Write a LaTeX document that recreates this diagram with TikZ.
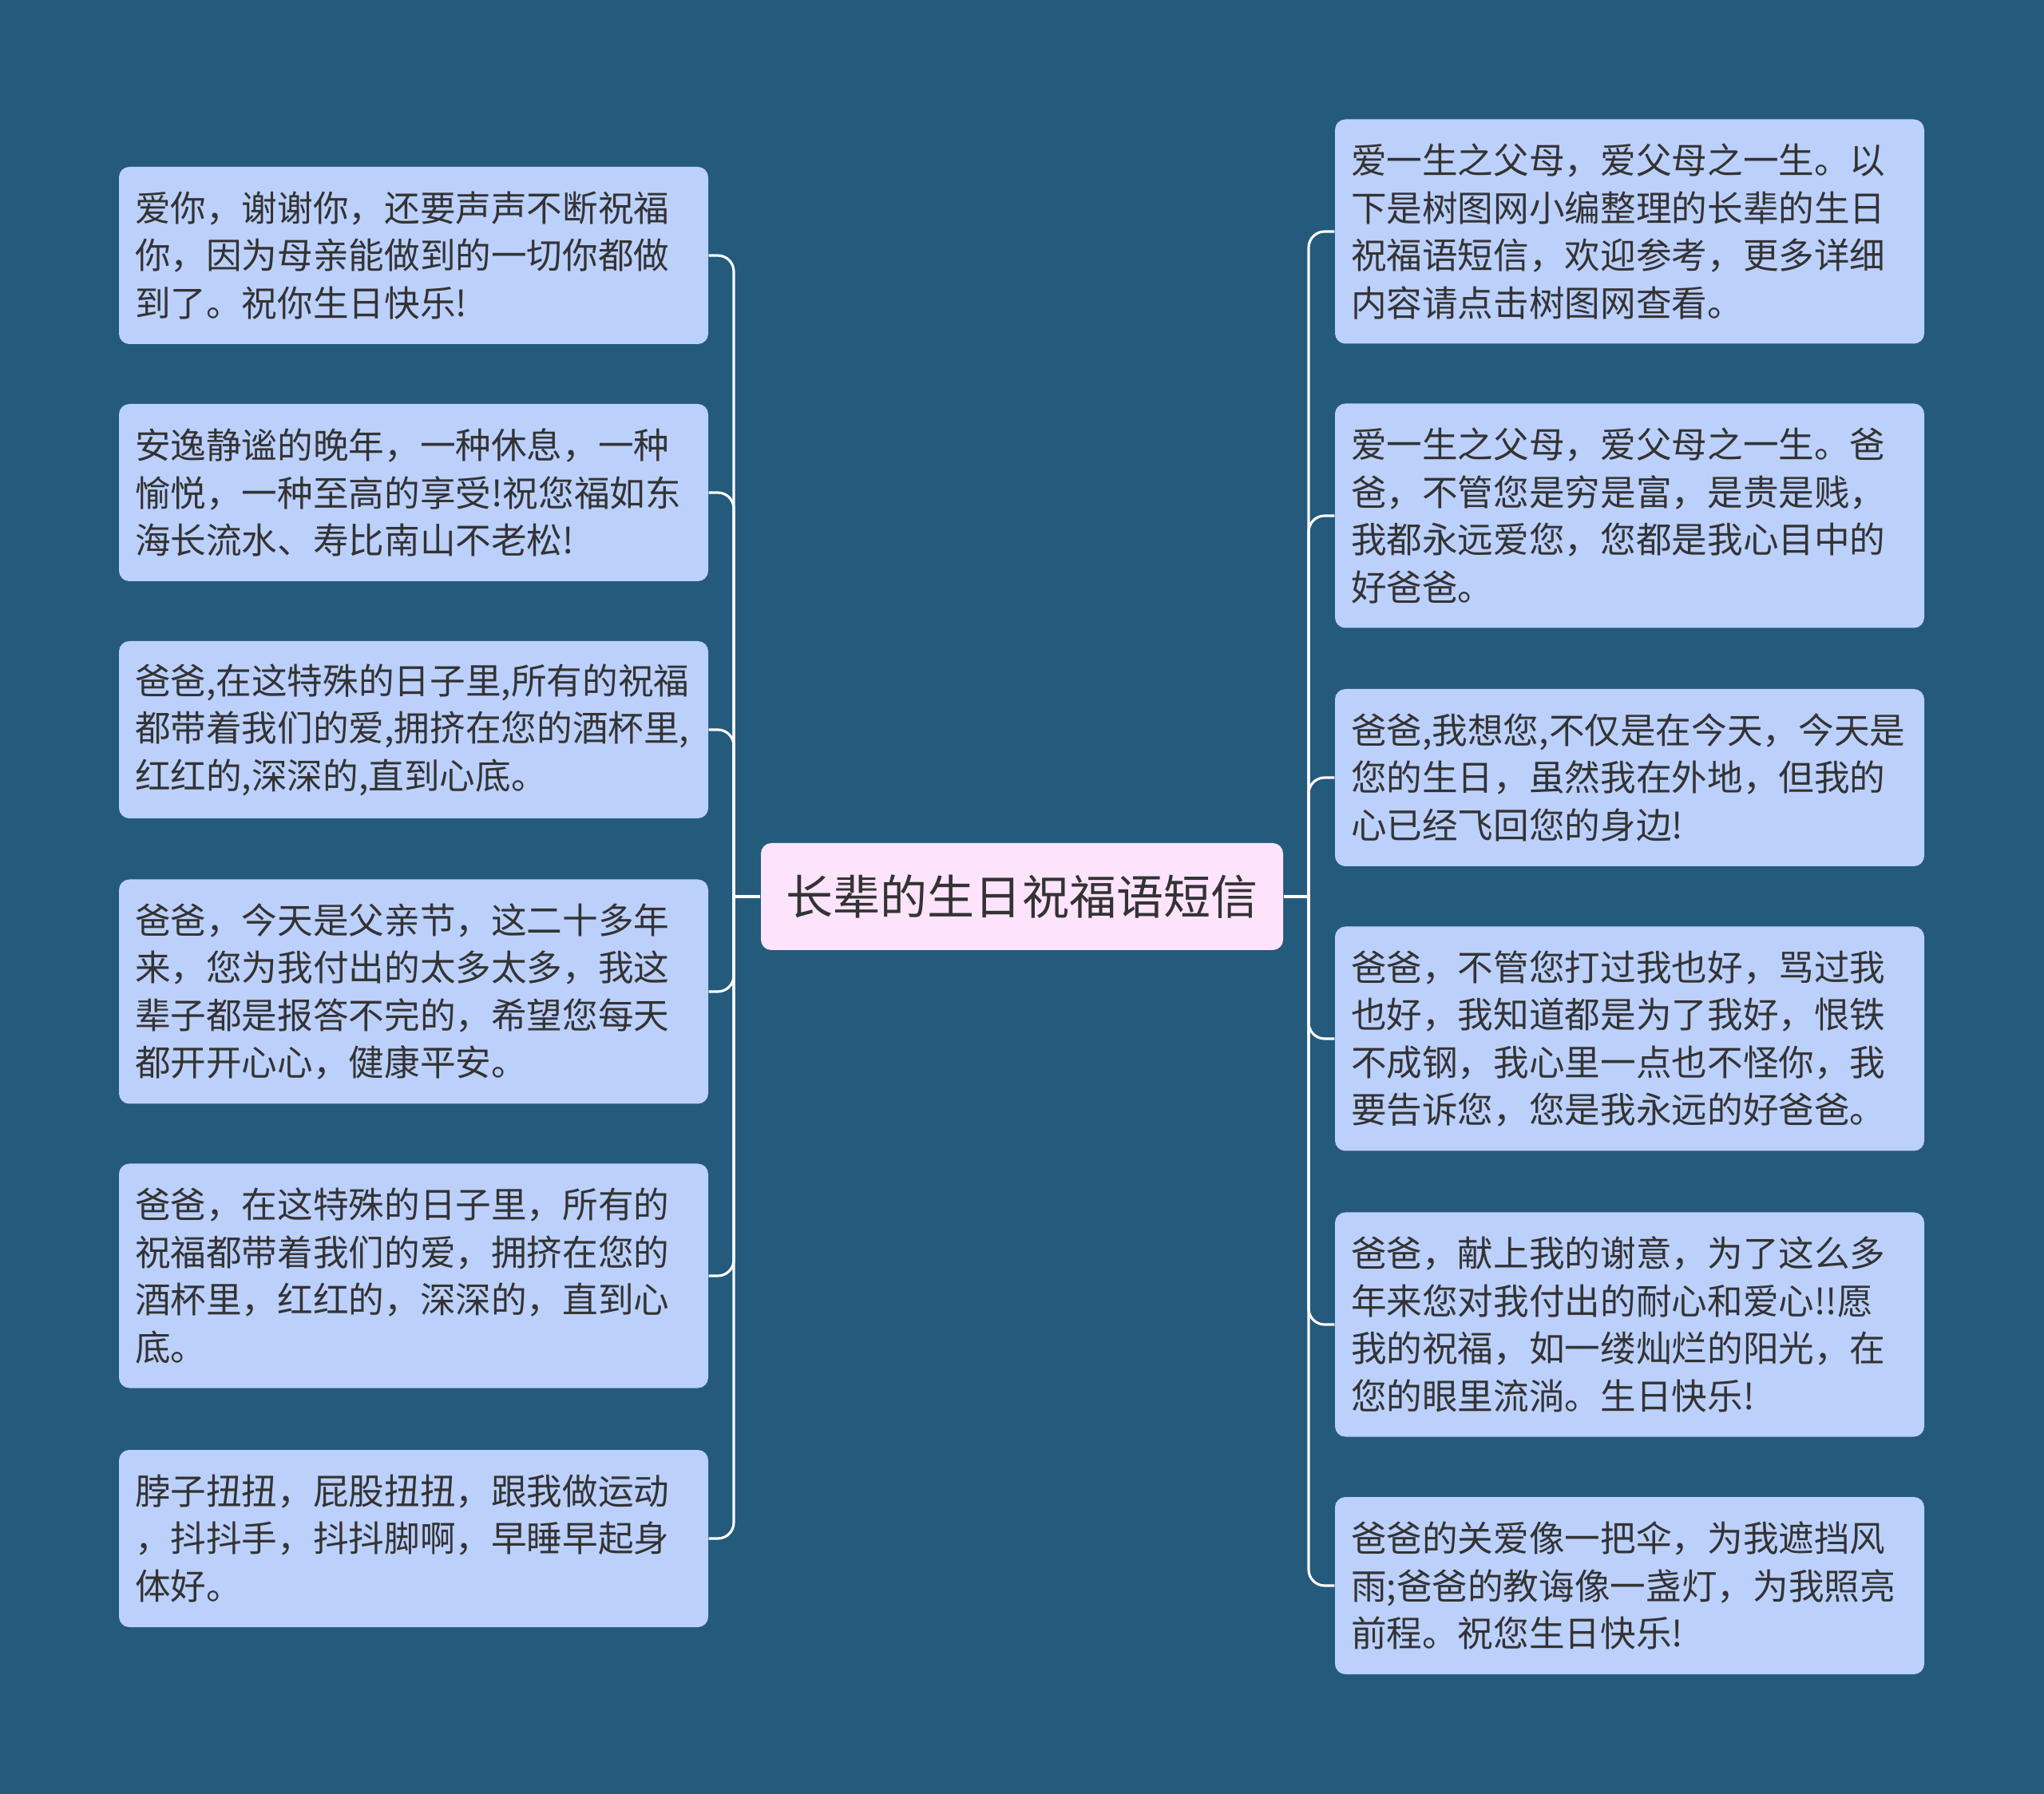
\documentclass[tikz,border=0pt]{standalone}
\usepackage{fontspec}
\setmainfont{Noto Sans CJK SC}
\usepackage{tikz}
\usetikzlibrary{positioning}

\definecolor{bgblue}{HTML}{245A7C}
\definecolor{leafblue}{HTML}{BCD0FC}
\definecolor{rootpink}{HTML}{FDE4FC}
\definecolor{inkgray}{HTML}{333333}

\begin{document}
\begin{tikzpicture}[
		leaf/.style={rectangle, rounded corners=0.13cm, fill=leafblue, text=inkgray, minimum width=7.38cm, minimum height=2.22cm, text width=6.98cm, align=left, inner xsep=0.20cm, font=\fontsize{12.7pt}{16.9pt}\selectfont},
		leaftall/.style={leaf, minimum height=2.81cm},
		rootbox/.style={rectangle, rounded corners=0.13cm, fill=rootpink, text=inkgray, minimum width=6.54cm, minimum height=1.34cm, font=\fontsize{16.8pt}{20pt}\selectfont},
		link/.style={draw=white, line width=0.9pt, rounded corners=0.2cm}]
		
		% Fundo
		\fill[bgblue] (0,0) rectangle (25.6,-22.47);
		\useasboundingbox (0,0) rectangle (25.6,-22.47);
		
		% Raiz
		\node[rootbox] (root) at (12.80,-11.23) {长辈的生日祝福语短信};
		\coordinate (jl) at (9.19,-11.23);
		\coordinate (jr) at (16.39,-11.23);
		
		% Esquerda
		\node[leaf] (l1) at (5.18,-3.20) {爱你，谢谢你，还要声声不断祝福\\你，因为母亲能做到的一切你都做\\到了。祝你生日快乐!};
		\node[leaf] (l2) at (5.18,-6.17) {安逸静谧的晚年，一种休息，一种\\愉悦，一种至高的享受!祝您福如东\\海长流水、寿比南山不老松!};
		\node[leaf] (l3) at (5.18,-9.14) {爸爸,在这特殊的日子里,所有的祝福\\都带着我们的爱,拥挤在您的酒杯里,\\红红的,深深的,直到心底。};
		\node[leaftall] (l4) at (5.18,-12.42) {爸爸，今天是父亲节，这二十多年\\来，您为我付出的太多太多，我这\\辈子都是报答不完的，希望您每天\\都开开心心，健康平安。};
		\node[leaftall] (l5) at (5.18,-15.98) {爸爸，在这特殊的日子里，所有的\\祝福都带着我们的爱，拥挤在您的\\酒杯里，红红的，深深的，直到心\\底。};
		\node[leaf] (l6) at (5.18,-19.27) {脖子扭扭，屁股扭扭，跟我做运动\\，抖抖手，抖抖脚啊，早睡早起身\\体好。};
		
		% Direita
		\node[leaftall] (r1) at (20.41,-2.90) {爱一生之父母，爱父母之一生。以\\下是树图网小编整理的长辈的生日\\祝福语短信，欢迎参考，更多详细\\内容请点击树图网查看。};
		\node[leaftall] (r2) at (20.41,-6.46) {爱一生之父母，爱父母之一生。爸\\爸，不管您是穷是富，是贵是贱，\\我都永远爱您，您都是我心目中的\\好爸爸。};
		\node[leaf] (r3) at (20.41,-9.74) {爸爸,我想您,不仅是在今天，今天是\\您的生日，虽然我在外地，但我的\\心已经飞回您的身边!};
		\node[leaftall] (r4) at (20.41,-13.01) {爸爸，不管您打过我也好，骂过我\\也好，我知道都是为了我好，恨铁\\不成钢，我心里一点也不怪你，我\\要告诉您，您是我永远的好爸爸。};
		\node[leaftall] (r5) at (20.41,-16.59) {爸爸，献上我的谢意，为了这么多\\年来您对我付出的耐心和爱心!!愿\\我的祝福，如一缕灿烂的阳光，在\\您的眼里流淌。生日快乐!};
		\node[leaf] (r6) at (20.41,-19.86) {爸爸的关爱像一把伞，为我遮挡风\\雨;爸爸的教诲像一盏灯，为我照亮\\前程。祝您生日快乐!};
		
		% Ligacoes
		\draw[link] (root.west) -- (jl);
		\draw[link] (root.east) -- (jr);
		\foreach \i in {1,...,6} {
			\draw[link] (jl) |- (l\i.east);
			\draw[link] (jr) |- (r\i.west);
		}
		
	\end{tikzpicture}
\end{document}
